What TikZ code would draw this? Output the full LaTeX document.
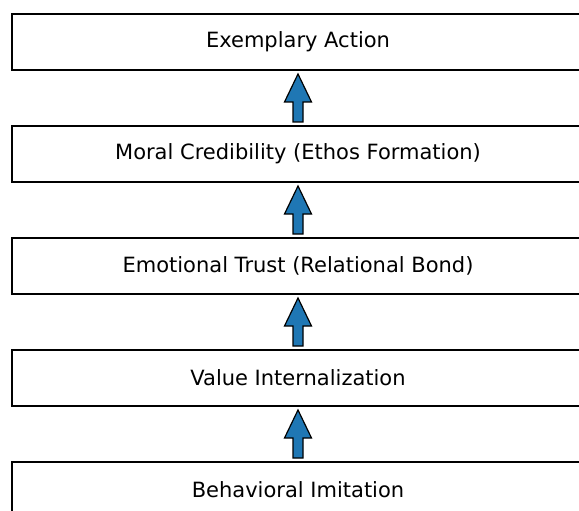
\documentclass[tikz,border=0pt]{standalone}
\usepackage{fontspec}
\setmainfont{DejaVu Sans}
\usepackage{tikz}
\usetikzlibrary{positioning,calc}
\definecolor{mplblue}{HTML}{1F77B4}

\begin{document}
\begin{tikzpicture}[x=1pt, y=1pt, node distance=112pt]
\tikzstyle{stage}=[draw=black,line width=1.6pt,fill=white,rectangle,minimum width=572pt,minimum height=56pt,outer sep=0pt,inner sep=0pt,font=\fontsize{21}{25}\selectfont]
\tikzstyle{uparrow}=[fill=mplblue,draw=black,line width=1.2pt,line join=miter]
\clip (0,0) rectangle (579,-511);
\node[stage]    (BI) at (298,-490)    {Behavioral Imitation};
\node[stage]    (VI)[above of=BI]     {Value Internalization};
\node[stage]    (ET)[above of=VI]     {Emotional Trust (Relational Bond)};
\node[stage]    (MC)[above of=ET]     {Moral Credibility (Ethos Formation)};
\node[stage]    (EA)[above of=MC]     {Exemplary Action};

\foreach \lo/\hi in {BI/VI, VI/ET, ET/MC, MC/EA}
  \filldraw[uparrow] ($(\lo.north)+(-5,4)$) -- ++(0,20) -- ++(-8.5,0)
    -- ($(\hi.south)+(0,-4)$) -- ($(\lo.north)+(13.5,24)$) -- ++(-8.5,0)
    -- ++(0,-20) -- cycle;
\end{tikzpicture}
\end{document}
